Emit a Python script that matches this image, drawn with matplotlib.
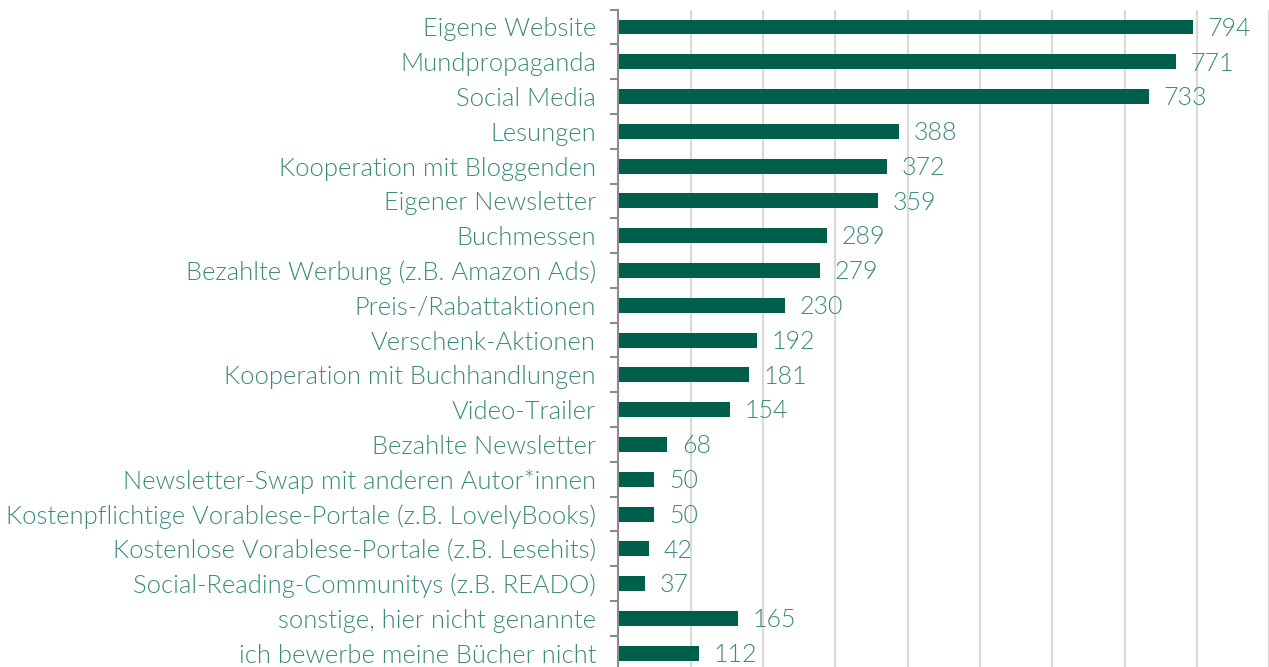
import matplotlib
matplotlib.use("Agg")
import matplotlib.pyplot as plt
import numpy as np

categories = [
    "Eigene Website",
    "Mundpropaganda",
    "Social Media",
    "Lesungen",
    "Kooperation mit Bloggenden",
    "Eigener Newsletter",
    "Buchmessen",
    "Bezahlte Werbung (z.B. Amazon Ads)",
    "Preis-/Rabattaktionen",
    "Verschenk-Aktionen",
    "Kooperation mit Buchhandlungen",
    "Video-Trailer",
    "Bezahlte Newsletter",
    "Newsletter-Swap mit anderen Autor*innen",
    "Kostenpflichtige Vorablese-Portale (z.B. LovelyBooks)",
    "Kostenlose Vorablese-Portale (z.B. Lesehits)",
    "Social-Reading-Communitys (z.B. READO)",
    "sonstige, hier nicht genannte",
    "ich bewerbe meine Bücher nicht",
]
values = [794, 771, 733, 388, 372, 359, 289, 279, 230, 192, 181, 154, 68, 50, 50, 42, 37, 165, 112]

BAR = "#005F4B"
TEXT = "#3A8A77"
GRID = "#D9D9D9"
SPINE = "#8C8C8C"

plt.rcParams["font.family"] = ["Lato", "DejaVu Sans"]

fig = plt.figure(figsize=(12.69, 6.67), dpi=100)
ax = fig.add_axes([618.3 / 1269, -3.6 / 667, (1269.4 - 618.3) / 1269, 661.0 / 667])

y = np.arange(len(categories))
ax.barh(y, values, height=0.43, color=BAR, zorder=3)

for yi, v in zip(y, values):
    ax.text(v + 20, yi + 0.05, str(v), va="center", ha="left", fontsize=18,
            color=TEXT, fontweight=300, zorder=4)

ax.set_xlim(0, 900)
ax.set_ylim(len(categories) - 0.5, -0.5)
ax.set_xticks(np.arange(0, 901, 100))
ax.xaxis.grid(True, color=GRID, linewidth=1.6, zorder=0)
ax.tick_params(axis="x", length=0, labelbottom=False)

ax.set_yticks(y)
ax.set_yticklabels(categories, fontsize=18.4, color=TEXT, fontweight=300)
ax.tick_params(axis="y", which="major", length=0, pad=16)
ax.set_yticks(np.arange(-0.5, len(categories), 1), minor=True)
ax.tick_params(axis="y", which="minor", length=6, width=1.5, color=SPINE)

for s in ["top", "right", "bottom"]:
    ax.spines[s].set_visible(False)
ax.spines["left"].set_color(SPINE)
ax.spines["left"].set_linewidth(1.5)
ax.spines["left"].set_zorder(5)

fig.savefig("out.png", dpi=100)
